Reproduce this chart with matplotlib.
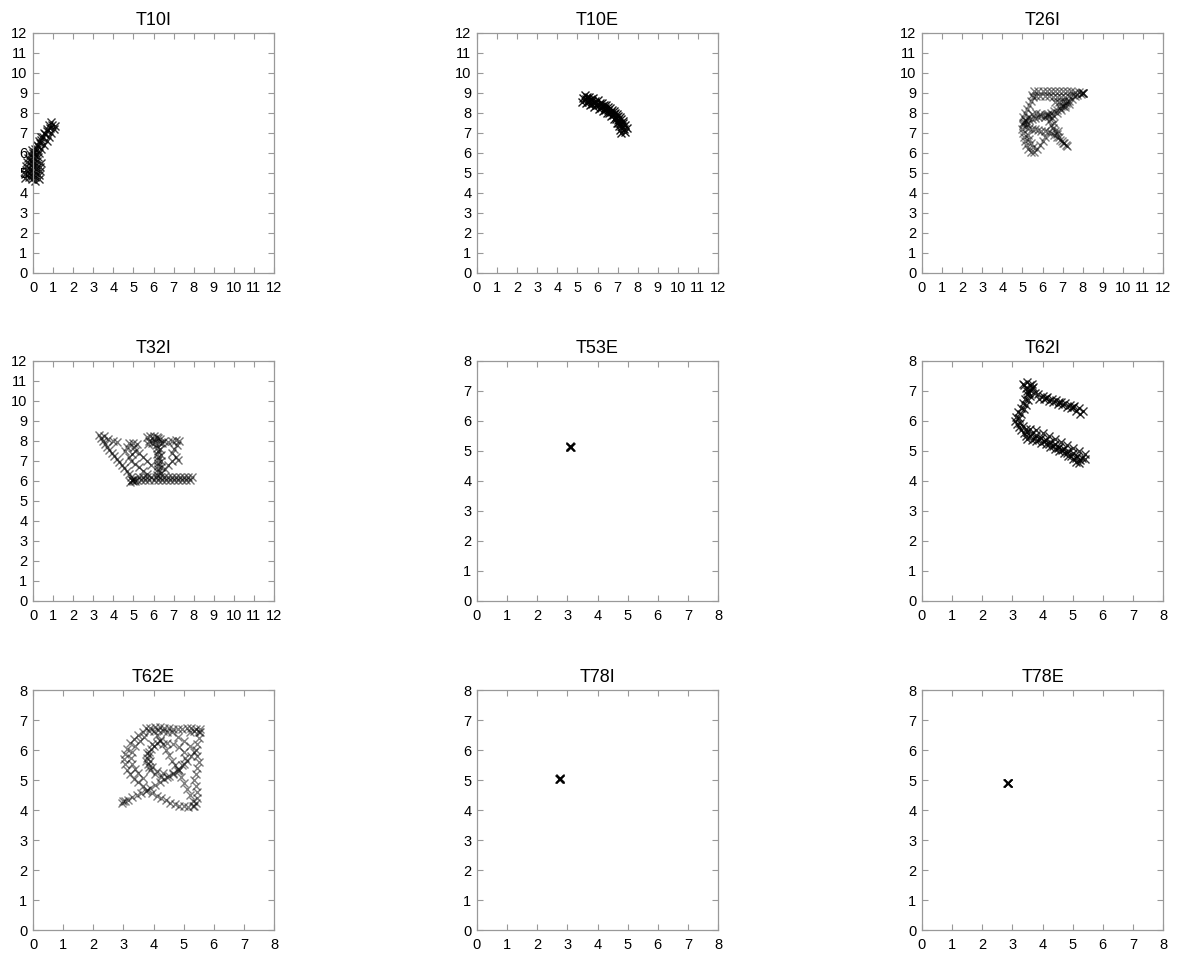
import numpy as np
import matplotlib
matplotlib.use('Agg')
import matplotlib.pyplot as plt

plt.rcParams['font.family'] = ['Liberation Sans', 'DejaVu Sans']

# trajectories, (x, y) per marker
t10i = [(-0.05, 4.7), (-0.05, 4.85), (-0.05, 5.0), (-0.03, 5.15), (0.0, 5.3), (0.0, 5.45),
        (0.02, 5.6), (0.05, 5.75), (0.08, 5.9), (0.12, 6.05), (0.18, 6.2), (0.25, 6.35),
        (0.33, 6.5), (0.42, 6.65), (0.52, 6.8), (0.62, 6.95), (0.72, 7.1), (0.83, 7.25),
        (0.95, 7.4),
        (-0.2, 4.8), (-0.18, 5.0), (-0.15, 5.2), (-0.12, 5.4), (-0.1, 5.6), (-0.05, 5.8),
        (0.0, 6.0), (0.08, 6.2), (0.18, 6.4), (0.3, 6.6), (0.42, 6.8), (0.55, 7.0),
        (0.68, 7.2), (0.8, 7.4), (0.9, 7.55),
        (0.1, 4.6), (0.12, 4.8), (0.15, 5.0), (0.15, 5.2), (0.17, 5.4), (0.2, 5.6),
        (0.25, 5.8), (0.32, 6.0), (0.42, 6.2), (0.55, 6.4), (0.68, 6.6), (0.8, 6.8),
        (0.92, 7.0), (1.05, 7.2), (1.1, 7.35),
        (-0.4, 4.75), (-0.38, 4.95), (-0.36, 5.15), (-0.33, 5.35), (-0.3, 5.55),
        (-0.25, 5.75), (-0.15, 5.95), (-0.05, 6.15), (0.3, 4.7), (0.32, 4.9),
        (0.35, 5.1), (0.35, 5.3), (0.38, 5.5)]

t10e = [(5.3, 8.75), (5.45, 8.7), (5.6, 8.65), (5.75, 8.58), (5.9, 8.5), (6.05, 8.42),
        (6.2, 8.34), (6.35, 8.25), (6.5, 8.15), (6.65, 8.05), (6.8, 7.95), (6.92, 7.8),
        (7.03, 7.65), (7.13, 7.5), (7.22, 7.35), (7.3, 7.2), (7.35, 7.05),
        (5.4, 8.9), (5.6, 8.82), (5.8, 8.74), (6.0, 8.64), (6.2, 8.52), (6.4, 8.4),
        (6.6, 8.26), (6.8, 8.12), (6.98, 7.95), (7.12, 7.78), (7.25, 7.6), (7.38, 7.4),
        (7.45, 7.25),
        (5.25, 8.55), (5.45, 8.5), (5.65, 8.42), (5.85, 8.32), (6.05, 8.22), (6.25, 8.1),
        (6.45, 7.98), (6.65, 7.85), (6.82, 7.7), (6.95, 7.52), (7.05, 7.35), (7.12, 7.15),
        (7.18, 7.0),
        (5.5, 8.78), (5.7, 8.7), (5.9, 8.62), (6.1, 8.52), (6.3, 8.4), (6.5, 8.28),
        (6.7, 8.15), (6.88, 8.0), (7.02, 7.85), (7.15, 7.68), (7.28, 7.48),
        (5.55, 8.55), (5.75, 8.47), (5.95, 8.38), (6.15, 8.27), (6.35, 8.15),
        (6.55, 8.02), (6.75, 7.88), (6.9, 7.7), (7.0, 7.52)]

t26i = [(5.6, 9.1), (5.8, 9.1), (6.0, 9.1), (6.2, 9.12), (6.4, 9.1), (6.6, 9.1), (6.8, 9.1),
        (7.0, 9.1), (7.2, 9.1), (7.4, 9.08), (7.6, 9.05), (7.8, 9.05), (8.0, 9.0),
        (5.5, 8.9), (5.7, 8.85), (5.9, 8.85), (6.1, 8.85), (6.3, 8.85), (6.5, 8.82),
        (6.7, 8.8), (6.9, 8.8), (7.1, 8.82), (7.3, 8.85), (7.5, 8.9), (7.7, 8.92),
        (7.9, 8.95), (7.95, 9.0), (8.0, 9.0), (8.02, 8.98),
        (6.6, 8.55), (6.8, 8.55), (7.0, 8.6), (7.2, 8.6), (6.9, 8.35), (7.1, 8.4),
        (7.6, 8.85), (7.45, 8.72), (7.3, 8.6), (7.15, 8.48), (7.0, 8.36), (6.85, 8.25),
        (6.7, 8.15), (6.55, 8.08), (6.4, 8.0), (6.25, 7.95), (6.1, 7.9), (5.95, 7.85),
        (5.8, 7.8), (5.65, 7.75), (5.5, 7.7), (5.35, 7.65), (5.2, 7.6), (5.05, 7.5),
        (7.3, 8.45), (7.1, 8.3), (6.9, 8.15), (6.7, 8.0), (6.5, 7.9), (6.3, 7.85),
        (6.1, 7.78), (5.9, 7.95), (5.7, 8.0), (5.5, 7.95), (5.3, 7.8), (5.15, 7.65),
        (5.05, 7.4), (5.2, 7.3), (5.35, 7.25), (5.5, 7.2), (5.65, 7.18), (5.8, 7.15),
        (5.95, 7.12), (6.1, 7.1), (6.25, 7.05), (6.4, 6.98), (6.55, 6.9), (6.7, 6.78),
        (6.85, 6.65), (7.0, 6.52), (7.15, 6.42), (7.2, 6.35),
        (6.3, 7.6), (6.4, 7.4), (6.5, 7.25), (6.6, 7.1), (6.7, 6.95), (6.8, 6.8),
        (6.95, 6.62), (7.05, 6.5),
        (5.0, 7.2), (5.05, 7.0), (5.1, 6.8), (5.15, 6.6), (5.2, 6.4), (5.3, 6.2),
        (5.45, 6.05), (5.6, 6.05), (5.75, 6.2), (5.9, 6.4), (6.0, 6.6), (6.1, 6.8),
        (5.3, 6.9), (5.35, 6.7), (5.45, 6.5), (5.55, 6.3),
        (5.05, 7.8), (5.15, 8.0), (5.25, 8.2), (5.35, 8.4), (5.45, 8.6), (5.55, 8.8),
        (5.1, 7.55), (5.25, 7.45), (6.2, 7.9), (6.45, 7.75), (6.55, 7.5), (6.75, 7.1)]

t32i = [(3.3, 8.3), (3.4, 8.15), (3.5, 8.0), (3.6, 7.85), (3.7, 7.7), (3.8, 7.55),
        (3.92, 7.4), (4.05, 7.25), (4.18, 7.1), (4.3, 6.95), (4.42, 6.8), (4.55, 6.65),
        (4.67, 6.5), (4.78, 6.35), (4.88, 6.2), (4.95, 6.05), (3.55, 8.25), (3.75, 8.1),
        (4.85, 5.95), (5.0, 6.0), (5.1, 5.98), (4.95, 6.05), (5.05, 6.1),
        (5.2, 6.05), (5.4, 6.05), (5.6, 6.05), (5.8, 6.05), (6.0, 6.05), (6.2, 6.05),
        (6.4, 6.05), (6.6, 6.05), (6.8, 6.05), (7.0, 6.05), (7.2, 6.05), (7.4, 6.05),
        (7.6, 6.05), (7.8, 6.05),
        (5.3, 6.2), (5.5, 6.2), (5.7, 6.2), (5.9, 6.2), (6.1, 6.2), (6.3, 6.2), (6.5, 6.2),
        (6.7, 6.2), (6.9, 6.2), (7.1, 6.2), (7.3, 6.2), (7.5, 6.2), (7.7, 6.2), (7.9, 6.2),
        (6.15, 6.3), (6.2, 6.45), (6.2, 6.6), (6.2, 6.75), (6.22, 6.9), (6.2, 7.05),
        (6.2, 7.2), (6.18, 7.35), (6.2, 7.5), (6.15, 7.65), (6.1, 7.8), (6.05, 7.95),
        (6.0, 8.1),
        (6.35, 6.4), (6.35, 6.7), (6.35, 7.0), (6.35, 7.3), (6.3, 7.6), (6.3, 7.9),
        (6.2, 8.15),
        (5.7, 8.2), (5.85, 8.25), (6.0, 8.25), (6.15, 8.2), (6.3, 8.1), (5.8, 8.0),
        (5.95, 7.9), (6.4, 7.9), (5.75, 7.85),
        (6.5, 8.0), (6.7, 7.95), (6.9, 8.0), (7.1, 8.05), (7.25, 8.0), (7.15, 7.8),
        (7.0, 7.6), (6.9, 7.4), (7.1, 7.2), (7.2, 7.05), (6.9, 7.0), (6.7, 6.8),
        (6.55, 6.6),
        (4.0, 8.0), (4.2, 7.95), (4.8, 7.9), (5.0, 7.9), (5.2, 7.85), (5.05, 7.7),
        (5.1, 7.5), (4.95, 7.35), (4.8, 7.2), (4.9, 7.0), (5.1, 6.85), (5.3, 6.7),
        (5.5, 6.5), (5.7, 6.35), (5.5, 7.2), (5.7, 7.0), (5.9, 6.8), (5.3, 7.4),
        (4.6, 7.5), (4.7, 7.7)]

t53e = [(3.08, 5.15), (3.1, 5.15), (3.12, 5.14), (3.1, 5.16)]

t62i = [(3.35, 7.25), (3.5, 7.3), (3.65, 7.25), (3.45, 7.1), (3.6, 7.05), (3.7, 7.15),
        (3.55, 6.95), (3.75, 6.95), (3.4, 7.2), (3.6, 7.2),
        (3.85, 6.9), (4.0, 6.85), (4.15, 6.8), (4.3, 6.75), (4.45, 6.7), (4.6, 6.65),
        (4.75, 6.6), (4.9, 6.55), (5.05, 6.5), (5.2, 6.42), (5.35, 6.35),
        (3.9, 6.75), (4.05, 6.72), (4.2, 6.68), (4.35, 6.62), (4.5, 6.58), (4.65, 6.52),
        (4.8, 6.48), (4.95, 6.42), (5.1, 6.35), (5.25, 6.25),
        (3.5, 6.9), (3.42, 6.75), (3.35, 6.6), (3.28, 6.45), (3.2, 6.3), (3.12, 6.15),
        (3.1, 6.0), (3.6, 6.85), (3.52, 6.7), (3.45, 6.55), (3.38, 6.4), (3.3, 6.25),
        (3.22, 6.1),
        (3.15, 5.9), (3.22, 5.8), (3.3, 5.7), (3.38, 5.6), (3.45, 5.5), (3.25, 5.95),
        (3.35, 5.85), (3.45, 5.75),
        (3.5, 5.65), (3.65, 5.6), (3.8, 5.52), (3.95, 5.45), (4.1, 5.38), (4.25, 5.3),
        (4.4, 5.22), (4.55, 5.15), (4.7, 5.08), (4.85, 5.0), (5.0, 4.92), (5.15, 4.85),
        (5.3, 4.78), (5.4, 4.75),
        (3.5, 5.4), (3.65, 5.38), (3.8, 5.33), (3.95, 5.28), (4.1, 5.22), (4.25, 5.15),
        (4.4, 5.08), (4.55, 5.0), (4.7, 4.92), (4.85, 4.85), (5.0, 4.75), (5.1, 4.65),
        (5.2, 4.6),
        (3.6, 5.75), (3.8, 5.7), (4.0, 5.6), (4.2, 5.5), (4.4, 5.4), (4.6, 5.3),
        (4.8, 5.2), (5.0, 5.1), (5.2, 5.0), (5.4, 4.9),
        (3.6, 5.5), (3.75, 5.45), (3.9, 5.4), (4.05, 5.32), (4.2, 5.25), (4.35, 5.18),
        (4.5, 5.1), (4.65, 5.02), (4.8, 4.95), (4.95, 4.85), (5.1, 4.78), (5.25, 4.7),
        (3.5, 7.0), (3.65, 7.1), (4.1, 6.78), (4.55, 6.62), (5.0, 6.46)]

t62e = [(3.75, 6.75), (3.9, 6.75), (4.05, 6.78), (4.2, 6.78), (4.35, 6.75), (4.5, 6.72),
        (4.65, 6.7), (4.8, 6.7), (4.95, 6.7), (5.1, 6.72), (5.25, 6.72), (5.4, 6.7),
        (5.55, 6.7),
        (3.85, 6.62), (4.0, 6.65), (4.15, 6.68), (4.3, 6.65), (4.45, 6.6), (5.2, 6.6),
        (5.35, 6.62), (5.5, 6.6),
        (3.65, 6.6), (3.5, 6.5), (3.35, 6.38), (3.22, 6.22), (3.12, 6.05), (3.05, 5.88),
        (3.03, 5.7), (3.05, 5.52), (3.12, 5.35), (3.22, 5.2), (3.35, 5.05), (3.5, 4.92),
        (3.65, 4.8), (3.8, 4.68), (3.95, 4.58), (4.1, 4.48), (4.25, 4.4), (4.4, 4.32),
        (4.55, 4.25), (4.7, 4.2), (4.85, 4.15), (5.0, 4.12), (5.15, 4.1), (5.3, 4.12),
        (5.42, 4.25),
        (3.7, 6.45), (3.55, 6.3), (3.4, 6.15), (3.3, 5.95), (3.25, 5.75), (3.28, 5.55),
        (3.38, 5.38), (3.5, 5.22), (3.65, 5.08),
        (2.95, 4.25), (3.0, 4.3), (3.05, 4.3), (3.15, 4.35), (3.3, 4.42), (3.45, 4.5),
        (3.6, 4.58), (3.75, 4.65), (3.9, 4.75), (4.05, 4.85), (4.2, 4.95), (4.35, 5.05),
        (4.5, 5.15), (4.65, 5.25), (4.8, 5.38), (4.95, 5.5), (5.1, 5.65), (5.25, 5.8),
        (4.2, 6.3), (4.0, 6.15), (3.85, 5.95), (3.8, 5.75), (3.82, 5.55), (3.9, 5.35),
        (4.05, 5.2), (4.25, 5.1), (4.45, 5.1), (4.65, 5.2), (4.85, 5.35), (5.0, 5.55),
        (5.05, 5.75), (5.0, 5.95), (4.85, 6.1), (4.65, 6.2), (4.45, 6.25),
        (4.1, 6.25), (3.92, 6.05), (3.85, 5.85), (3.88, 5.65), (3.95, 5.45), (4.1, 5.3),
        (4.3, 5.22), (3.95, 6.2), (3.78, 5.9), (3.75, 5.65), (3.85, 5.45),
        (4.1, 6.5), (4.2, 6.35), (4.3, 6.2), (4.4, 6.0), (4.5, 5.85), (4.6, 5.65),
        (4.7, 5.5), (4.8, 5.3), (4.9, 5.1), (5.0, 4.9), (5.1, 4.7), (5.2, 4.5),
        (5.3, 4.3), (5.35, 4.15),
        (5.55, 6.6), (5.5, 6.4), (5.45, 6.2), (5.4, 6.0), (5.45, 5.8), (5.5, 5.6),
        (5.45, 5.4), (5.4, 5.2), (5.35, 5.0), (5.4, 4.8), (5.45, 4.6), (5.45, 4.4),
        (4.6, 6.6), (4.8, 6.45), (5.0, 6.3), (5.2, 6.15), (5.35, 5.95)]

t78i = [(2.73, 5.05), (2.75, 5.05), (2.77, 5.04), (2.75, 5.06)]
t78e = [(2.83, 4.9), (2.85, 4.9), (2.87, 4.89), (2.85, 4.91)]

titles = ['T10I', 'T10E', 'T26I', 'T32I', 'T53E', 'T62I', 'T62E', 'T78I', 'T78E']
series = [t10i, t10e, t26i, t32i, t53e, t62i, t62e, t78i, t78e]
ranges = [12, 12, 12, 12, 8, 8, 8, 8, 8]
alphas = [0.8, 0.9, 0.5, 0.55, 0.9, 0.8, 0.5, 0.9, 0.9]

W, H = 1181, 958
fig = plt.figure(figsize=(W / 100, H / 100), dpi=100)

lefts = [33, 477, 922]
bottoms = [273, 601, 930]

for i, (name, pts, rng, a) in enumerate(zip(titles, series, ranges, alphas)):
    r, c = divmod(i, 3)
    ax = fig.add_axes([lefts[c] / W, (H - bottoms[r]) / H, 241 / W, 240 / H])
    pts = np.array(pts)
    ax.plot(pts[:, 0], pts[:, 1], 'x', color='black', alpha=a, ms=6, mew=1.0,
            clip_on=False)
    ax.set_xlim(0, rng)
    ax.set_ylim(0, rng)
    ax.set_xticks(range(rng + 1))
    ax.set_yticks(range(rng + 1))
    ax.tick_params(direction='in', length=4, width=0.8, color='#999999',
                   top=True, right=True, labelsize=10.5)
    ax.tick_params(axis='x', pad=6)
    ax.tick_params(axis='y', pad=4)
    for s in ax.spines.values():
        s.set_color('#999999')
        s.set_linewidth(0.9)
    ax.set_title(name, fontsize=13, pad=6)

fig.savefig('out.png', dpi=100)
